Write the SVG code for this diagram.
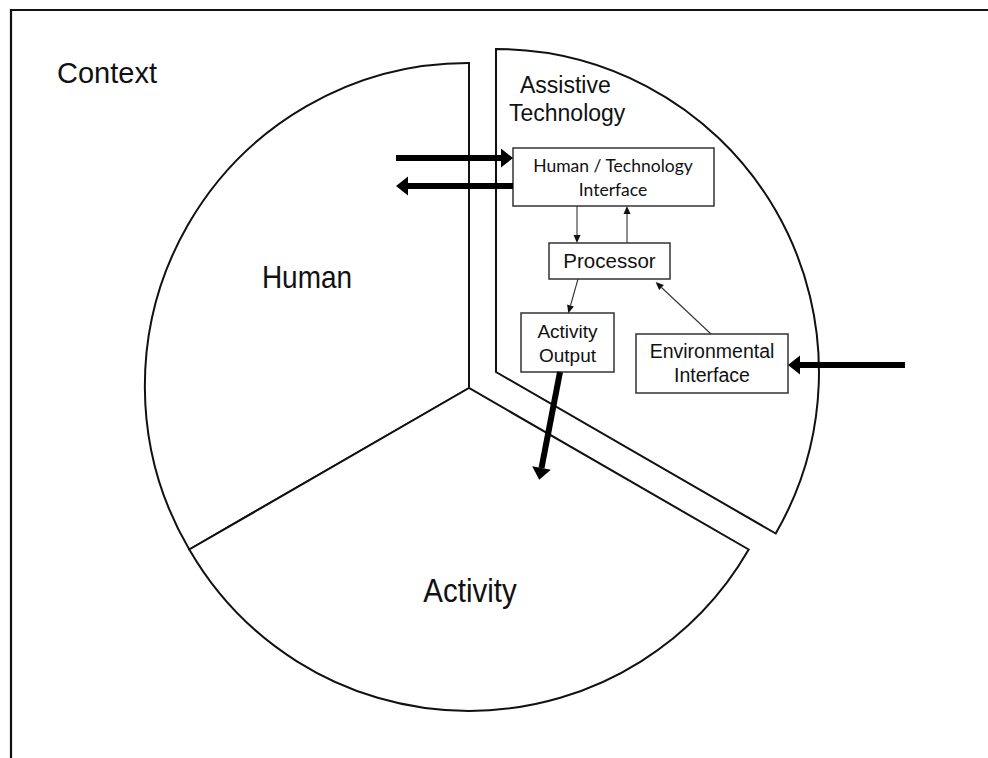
<svg xmlns="http://www.w3.org/2000/svg" width="988" height="758" viewBox="0 0 988 758">
<style>
  .frame { fill: none; stroke: #111; stroke-width: 2.2; }
  .sector { fill: #fff; stroke: #111; stroke-width: 2; stroke-linejoin: miter; }
  .box { fill: #fff; stroke: #333; stroke-width: 1.5; }
  .big { font-family: "Liberation Sans", Arial, sans-serif; fill: #111; }
  .lbl { font-family: "Liberation Sans", Arial, sans-serif; fill: #111; text-anchor: middle; }
  .cal { font-family: Lato, "Noto Sans", sans-serif; fill: #111; text-anchor: middle; }
  .thick { stroke: #000; stroke-width: 6; fill: none; }
  .thin { stroke: #333; stroke-width: 1.1; fill: none; }
</style>
<defs>
  <marker id="bighead" markerUnits="userSpaceOnUse" markerWidth="13" markerHeight="20" refX="0" refY="9.5" orient="auto" overflow="visible">
    <path d="M0,0 L12,9.5 L0,19 Z" fill="#000"/>
  </marker>
  <marker id="smallhead" markerUnits="userSpaceOnUse" markerWidth="9" markerHeight="8" refX="0" refY="3.5" orient="auto" overflow="visible">
    <path d="M0,0 L8,3.5 L0,7 Z" fill="#111"/>
  </marker>
</defs>

<rect width="988" height="758" fill="#fff"/>
<g id="context">
  <path class="frame" d="M11,758 L11,10 L988,10"/>
  <text class="big" x="57" y="83" font-size="29">Context</text>
</g>

<g id="human">
  <path class="sector" d="M469,388 L469,63 A323,323 0 0 0 189.3,549.5 Z"/>
  <text class="lbl" font-size="28" transform="translate(307,288) scale(1,1.12)">Human</text>
</g>

<g id="activity">
  <path class="sector" d="M469,388 L189.3,549.5 A323,323 0 0 0 748.7,549.5 Z"/>
  <text class="lbl" font-size="29.5" transform="translate(470,602) scale(1,1.1)">Activity</text>
</g>

<g id="assistive-technology">
  <path class="sector" d="M496,372 L496,49 A323,323 0 0 1 775.7,533.5 Z"/>
  <text class="big" x="520" y="93" font-size="23">Assistive</text>
  <text class="big" x="509" y="121" font-size="23">Technology</text>
</g>

<g id="hti">
  <rect class="box" x="513" y="148" width="201" height="58"/>
  <text class="cal" x="613" y="172" font-size="17.5">Human / Technology</text>
  <text class="cal" x="613" y="196" font-size="17.5">Interface</text>
</g>

<g id="processor">
  <rect class="box" x="549" y="243" width="121" height="36"/>
  <text class="lbl" x="609.5" y="268" font-size="20.5">Processor</text>
</g>

<g id="activity-output">
  <rect class="box" x="521" y="313" width="93" height="59"/>
  <text class="lbl" x="567.5" y="338" font-size="19">Activity</text>
  <text class="lbl" x="567.5" y="362" font-size="19">Output</text>
</g>

<g id="environmental-interface">
  <rect class="box" x="636" y="334" width="152" height="59"/>
  <text class="lbl" x="712" y="358" font-size="19.5">Environmental</text>
  <text class="lbl" x="712" y="382" font-size="19.5">Interface</text>
</g>

<g id="connectors">
  <line class="thin" x1="577" y1="206" x2="577" y2="235" marker-end="url(#smallhead)"/>
  <line class="thin" x1="627" y1="243" x2="627" y2="214" marker-end="url(#smallhead)"/>
  <line class="thin" x1="578" y1="279" x2="570.5" y2="305.5" marker-end="url(#smallhead)"/>
  <line class="thin" x1="711" y1="334" x2="661.5" y2="287.5" marker-end="url(#smallhead)"/>
  <line class="thick" x1="396" y1="158" x2="501" y2="158" marker-end="url(#bighead)"/>
  <line class="thick" x1="513" y1="186" x2="408" y2="186" marker-end="url(#bighead)"/>
  <line class="thick" x1="905" y1="365" x2="800" y2="365" marker-end="url(#bighead)"/>
  <line class="thick" x1="560" y1="372" x2="541.5" y2="468" marker-end="url(#bighead)"/>
</g>
</svg>
